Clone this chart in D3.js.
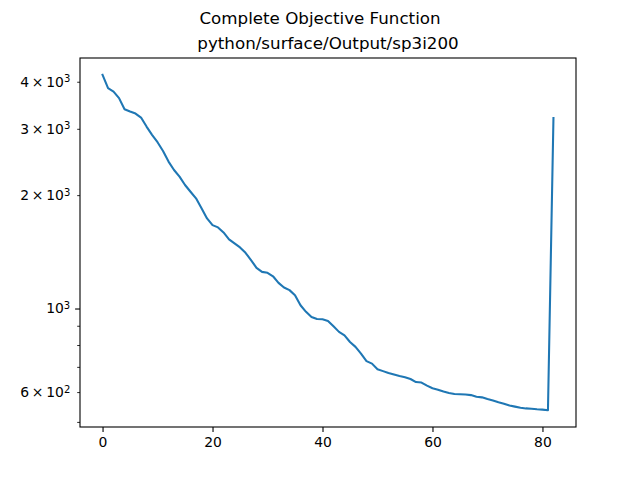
<!DOCTYPE html>
<html>
<head>
<meta charset="utf-8">
<script src="https://cdn.jsdelivr.net/npm/d3@7"></script>
<style>
  body { margin: 0; background: #fff; }
  text { font-family: "DejaVu Sans", sans-serif; fill: #000; }
</style>
</head>
<body>
<div id="chart"></div>
<script>
// objective value per iteration
const objective = [
  4174, 3846, 3767, 3618, 3381, 3333, 3293, 3213, 3041, 2891,
  2764, 2620, 2455, 2332, 2239, 2128, 2042, 1961, 1845, 1735,
  1665, 1642, 1592, 1526, 1489, 1453, 1406, 1344, 1282, 1251,
  1244, 1218, 1170, 1137, 1119, 1085, 1020, 980, 950, 938,
  936, 927, 897, 867, 849, 815, 791, 759, 725, 714,
  690, 682, 674, 668, 662, 657, 650, 638, 636, 624,
  614, 609, 602, 597, 593, 592, 591, 589, 583, 581,
  575, 570, 564, 559, 553, 549, 545, 543, 542, 540,
  539, 537, 3206
];
const xTicks = [0, 20, 40, 60, 80];
const yMajorTicks = [1000];
const yMinorTicks = [500, 600, 700, 800, 900, 2000, 3000, 4000];
const yMinorLabelled = [600, 2000, 3000, 4000];
const suptitle = 'Complete Objective Function';
const title = 'python/surface/Output/sp3i200';

const w = 640, h = 480;
const margin = {left: 80, right: 64, top: 58, bottom: 53};

const svg = d3.select('#chart')
  .append('svg')
  .attr('width', w)
  .attr('height', h);

// matplotlib style 5% margins, log margins for y
const n = objective.length - 1;
const xScale = d3.scaleLinear()
  .domain([-0.05 * n, n * 1.05])
  .range([margin.left, w - margin.right]);

const lmin = Math.log10(d3.min(objective));
const lmax = Math.log10(d3.max(objective));
const lpad = (lmax - lmin) * 0.05;
const yScale = d3.scaleLog()
  .domain([Math.pow(10, lmin - lpad), Math.pow(10, lmax + lpad)])
  .range([h - margin.bottom, margin.top]);

const line = d3.line()
  .x((d, i) => xScale(i))
  .y(d => yScale(d));

svg.append('path')
  .datum(objective)
  .attr('d', line)
  .attr('fill', 'none')
  .attr('stroke', '#1f77b4')
  .attr('stroke-width', 2.08)
  .attr('stroke-linejoin', 'round')
  .attr('stroke-linecap', 'square');

// frame
svg.append('rect')
  .attr('x', margin.left)
  .attr('y', margin.top)
  .attr('width', w - margin.left - margin.right)
  .attr('height', h - margin.top - margin.bottom)
  .attr('fill', 'none')
  .attr('stroke', '#000')
  .attr('stroke-width', 1.1);

const xAxis = d3.axisBottom(xScale)
  .tickValues(xTicks)
  .tickSize(4.9)
  .tickPadding(4.9)
  .tickFormat(d3.format('d'));

svg.append('g')
  .attr('transform', 'translate(0,' + (h - margin.bottom) + ')')
  .call(xAxis)
  .call(g => g.select('.domain').remove())
  .call(g => g.selectAll('line').attr('stroke-width', 1.1))
  .call(g => g.selectAll('text').attr('font-size', 13.9).attr('font-family', 'DejaVu Sans'));

const supLabel = (sel, d) => {
  const e = Math.floor(Math.log10(d));
  const m = Math.round(d / Math.pow(10, e));
  sel.text(null);
  if (m !== 1) sel.append('tspan').text(m + '\u2009\u00d7\u2009');
  sel.append('tspan').text('10');
  sel.append('tspan').attr('dy', '-0.45em').attr('font-size', '0.72em').text(e);
};

const yAxisMajor = d3.axisLeft(yScale)
  .tickValues(yMajorTicks)
  .tickSize(4.9)
  .tickPadding(4.9)
  .tickFormat(() => '');

svg.append('g')
  .attr('transform', 'translate(' + margin.left + ',0)')
  .call(yAxisMajor)
  .call(g => g.select('.domain').remove())
  .call(g => g.selectAll('line').attr('stroke-width', 1.1))
  .call(g => g.selectAll('text')
    .attr('font-size', 13.9)
    .attr('font-family', 'DejaVu Sans')
    .each(function(d) { supLabel(d3.select(this), d); }));

const yAxisMinor = d3.axisLeft(yScale)
  .tickValues(yMinorTicks)
  .tickSize(2.8)
  .tickPadding(6.9)
  .tickFormat(() => '');

svg.append('g')
  .attr('transform', 'translate(' + margin.left + ',0)')
  .call(yAxisMinor)
  .call(g => g.select('.domain').remove())
  .call(g => g.selectAll('line').attr('stroke-width', 0.84))
  .call(g => g.selectAll('text')
    .attr('font-size', 13.9)
    .attr('font-family', 'DejaVu Sans')
    .each(function(d) {
      if (yMinorLabelled.includes(d)) supLabel(d3.select(this), d);
    }));

svg.append('text')
  .attr('x', w / 2)
  .attr('y', 24)
  .attr('text-anchor', 'middle')
  .attr('font-size', 16.7)
  .text(suptitle);

svg.append('text')
  .attr('x', (margin.left + w - margin.right) / 2)
  .attr('y', 49)
  .attr('text-anchor', 'middle')
  .attr('font-size', 16.7)
  .text(title);
</script>
</body>
</html>
